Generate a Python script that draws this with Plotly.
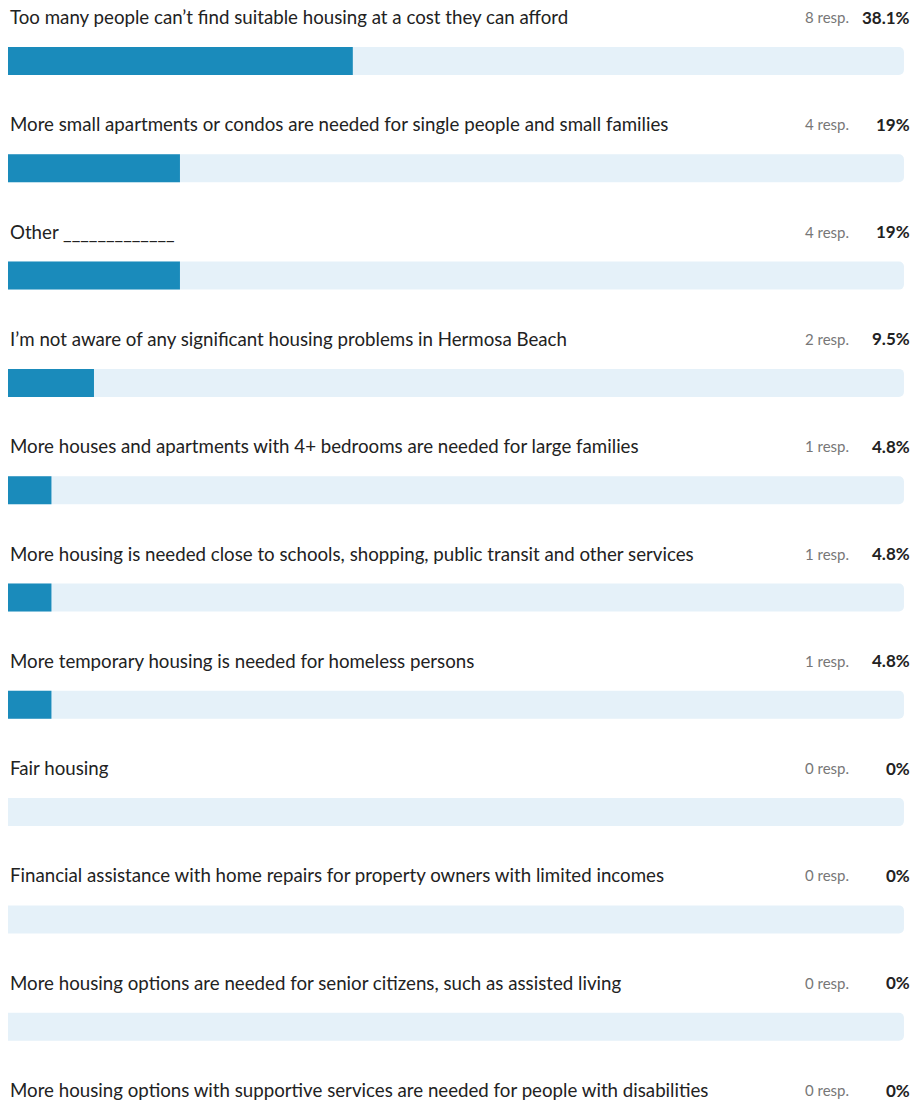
import plotly.graph_objects as go

labels = [
    "Too many people can\u2019t find suitable housing at a cost they can afford",
    "More small apartments or condos are needed for single people and small families",
    "Other _____________",
    "I\u2019m not aware of any significant housing problems in Hermosa Beach",
    "More houses and apartments with 4+ bedrooms are needed for large families",
    "More housing is needed close to schools, shopping, public transit and other services",
    "More temporary housing is needed for homeless persons",
    "Fair housing",
    "Financial assistance with home repairs for property owners with limited incomes",
    "More housing options are needed for senior citizens, such as assisted living",
    "More housing options with supportive services are needed for people with disabilities",
]
responses = [8, 4, 4, 2, 1, 1, 1, 0, 0, 0, 0]
percents = [38.1, 19, 19, 9.5, 4.8, 4.8, 4.8, 0, 0, 0, 0]
pct_labels = ["38.1%", "19%", "19%", "9.5%", "4.8%", "4.8%", "4.8%", "0%", "0%", "0%", "0%"]

W, H = 914, 1104
spacing = 107.3
first_center = 61
label_offset = 44 / spacing

idx = list(range(len(labels)))

fig = go.Figure()
fig.add_trace(go.Bar(
    x=[99] * len(labels), y=idx, orientation="h", width=28 / spacing,
    marker=dict(color="#e5f1f9", cornerradius=5, line=dict(width=0)),
    hoverinfo="skip", showlegend=False,
))
fig.add_trace(go.Bar(
    x=percents, y=idx, orientation="h", width=28 / spacing,
    marker=dict(color="#1a8bbb", cornerradius=5, line=dict(width=0)),
    showlegend=False,
))

for i in idx:
    ly = i - label_offset
    fig.add_annotation(x=0, y=ly, xref="x", yref="y", text=labels[i],
                       showarrow=False, xanchor="left", yanchor="middle",
                       font=dict(family="Lato", size=18.7, color="#222222"))
    fig.add_annotation(x=93.2, y=ly, xref="x", yref="y", text=f"{responses[i]} resp.",
                       showarrow=False, xanchor="right", yanchor="middle",
                       font=dict(family="Lato", size=15, color="#777777"))
    fig.add_annotation(x=99.9, y=ly, xref="x", yref="y", text=f"<b>{pct_labels[i]}</b>",
                       showarrow=False, xanchor="right", yanchor="middle",
                       font=dict(family="Lato", size=17, color="#222222"))

fig.update_layout(
    width=W, height=H,
    margin=dict(l=8, r=1, t=0, b=0),
    paper_bgcolor="white", plot_bgcolor="white",
    barmode="overlay",
    xaxis=dict(range=[0, 100], visible=False, fixedrange=True),
    yaxis=dict(range=[(H - first_center) / spacing, -first_center / spacing],
               visible=False, fixedrange=True),
)

fig.write_html(
    "out.html",
    config={"displayModeBar": False},
    post_script="document.body.style.margin='0';document.body.style.overflow='hidden';",
)
